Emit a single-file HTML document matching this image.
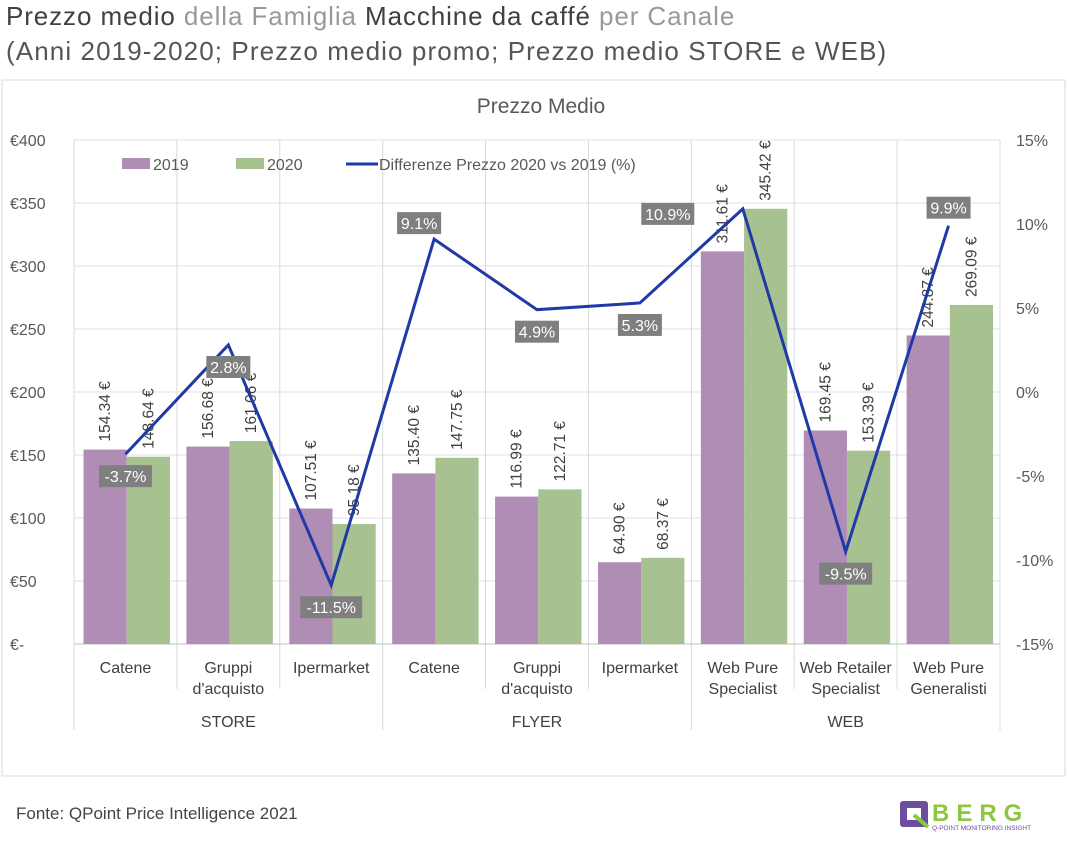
<!DOCTYPE html>
<html><head><meta charset="utf-8"><style>
body{margin:0;width:1068px;height:842px;background:#fff;font-family:"Liberation Sans",sans-serif;overflow:hidden;position:relative}
.t1{position:absolute;left:6px;top:1px;font-size:26px;color:#555;white-space:nowrap;letter-spacing:0.9px}
.t1 b{font-weight:normal;color:#404040}
.t1 span{color:#999;font-weight:300}
.t2{position:absolute;left:6px;top:36px;font-size:26px;color:#555;white-space:nowrap;letter-spacing:1.1px}
.src{position:absolute;left:16px;top:804px;font-size:17px;color:#444}
</style></head><body>
<div class="t1"><b>Prezzo medio</b> <span>della Famiglia</span> <b>Macchine da caffé</b> <span>per Canale</span></div>
<div class="t2">(Anni 2019-2020; Prezzo medio promo; Prezzo medio STORE e WEB)</div>
<svg id="chart" width="1068" height="842" style="position:absolute;left:0;top:0" font-family="Liberation Sans, sans-serif"></svg>
<div class="src">Fonte: QPoint Price Intelligence 2021</div>
<svg style="position:absolute;left:898px;top:798px" width="168" height="34">
<rect x="2" y="3" width="28" height="26" rx="3" fill="#6b4f9e"/><rect x="9" y="10" width="14" height="12" fill="#fff"/>
<path d="M16 17 L30 29" stroke="#8dc63f" stroke-width="4"/>
<text x="34" y="23" font-size="24" font-weight="bold" fill="#8dc63f" letter-spacing="7" font-family="Liberation Sans, sans-serif">BERG</text>
<text x="34" y="32" font-size="6.5" fill="#6b4f9e" font-family="Liberation Sans, sans-serif">Q-POINT MONITORING INSIGHT</text>
</svg>
<script>
const categories=["Catene","Gruppi|d'acquisto","Ipermarket","Catene","Gruppi|d'acquisto","Ipermarket","Web Pure|Specialist","Web Retailer|Specialist","Web Pure|Generalisti"];
const groups=["STORE","FLYER","WEB"];
const values2019=[154.34,156.68,107.51,135.40,116.99,64.90,311.61,169.45,244.87];
const values2020=[148.64,161.06,95.18,147.75,122.71,68.37,345.42,153.39,269.09];
const diffPct=[-3.7,2.8,-11.5,9.1,4.9,5.3,10.9,-9.5,9.9];
const leftTicks=["€-","€50","€100","€150","€200","€250","€300","€350","€400"];
const rightTicks=["-15%","-10%","-5%","0%","5%","10%","15%"];
const labelDx=[0,0,0,-15,0,0,-75,0,0];
const labelDy=[22,22,22,-16,22,22,5,22,-18];
const NS="http://www.w3.org/2000/svg";
const svg=document.getElementById('chart');
const X0=74,X1=1000,Y0=644,Y1=140;
const cw=(X1-X0)/categories.length;
const y=v=>Y0-(v/400)*(Y0-Y1);
const yr=p=>Y0-((p+15)/30)*(Y0-Y1);
function el(t,a,p){const e=document.createElementNS(NS,t);for(const k in a)e.setAttribute(k,a[k]);(p||svg).appendChild(e);return e;}
let e;
e=el('rect',{x:2,y:80,width:1063,height:696,fill:'#fff',stroke:'#d9d9d9'});


e=el('text',{x:541,y:113,'text-anchor':'middle','font-size':21,fill:'#595959'});e.textContent='Prezzo Medio';


leftTicks.forEach((t,i)=>{const yy=y(i*50);
 el('line',{x1:X0,x2:X1,y1:yy,y2:yy,stroke:'#e0e0e0'});
 e=el('text',{x:10,y:yy+6,'font-size':16,fill:'#595959'});e.textContent=t;
 
 });
rightTicks.forEach((t,i)=>{const yy=yr(-15+i*5);
 e=el('text',{x:1016,y:yy+6,'font-size':16,fill:'#595959'});e.textContent=t;
 
 });
for(let i=0;i<=categories.length;i++){const xx=X0+i*cw;const big=i%3==0;
 el('line',{x1:xx,x2:xx,y1:Y1,y2:big?730:Y0+45,stroke:'#d9d9d9'});}
el('line',{x1:X0,x2:X1,y1:Y0,y2:Y0,stroke:'#bfbfbf'});
categories.forEach((c,i)=>{const cx=X0+cw*(i+0.5);const bw=cw*0.42,off=cw*0.0925;
 const bx=X0+cw*i+off;
 e=el('rect',{x:bx,y:y(values2019[i]),width:bw,height:Y0-y(values2019[i]),fill:'#b08db5'});
 
 
 e=el('rect',{x:bx+bw,y:y(values2020[i]),width:bw,height:Y0-y(values2020[i]),fill:'#a8c190'});
 
 
 [[values2019[i],bx+bw/2],[values2020[i],bx+bw*1.5]].forEach(([v,xx])=>{
  const yy=y(v)-8;
  e=el('text',{x:0,y:0,'font-size':15.5,fill:'#404040',transform:`translate(${xx+5},${yy}) rotate(-90)`});
  e.textContent=v.toFixed(2)+' €';
  
  });
 const ls=c.split('|');ls.forEach((l,k)=>{e=el('text',{x:cx,y:673+k*21,'text-anchor':'middle','font-size':16,fill:'#404040'});e.textContent=l;
  
  });
});
groups.forEach((g,i)=>{e=el('text',{x:X0+cw*(i*3+1.5),y:727,'text-anchor':'middle','font-size':16,fill:'#404040'});e.textContent=g;
 
 });
const pts=diffPct.map((p,i)=>[X0+cw*(i+0.5),yr(p)]);
e=el('polyline',{points:pts.map(p=>p.join(',')).join(' '),fill:'none',stroke:'#1f3aa6','stroke-width':3,'stroke-linejoin':'miter'});


pts.forEach((p,i)=>{const t=diffPct[i].toFixed(1)+'%';const w=t.length*9+8;
 const cy=p[1]+labelDy[i];const cx=p[0]+labelDx[i];
 e=el('rect',{x:cx-w/2,y:cy-11,width:w,height:22,fill:'#7f7f7f'});
 
 
 e=el('text',{x:cx,y:cy+6,'text-anchor':'middle','font-size':16,fill:'#fff'});e.textContent=t;
 
 });
// legend
e=el('rect',{x:122,y:158,width:28,height:11,fill:'#b08db5'});


e=el('text',{x:153,y:170,'font-size':16,fill:'#595959'});e.textContent='2019';


e=el('rect',{x:236,y:158,width:28,height:11,fill:'#a8c190'});


e=el('text',{x:267,y:170,'font-size':16,fill:'#595959'});e.textContent='2020';


e=el('line',{x1:346,x2:378,y1:164,y2:164,stroke:'#1f3aa6','stroke-width':3});


e=el('text',{x:379,y:170,'font-size':16,fill:'#595959'});e.textContent='Differenze Prezzo 2020 vs 2019 (%)';


</script>
</body></html>
